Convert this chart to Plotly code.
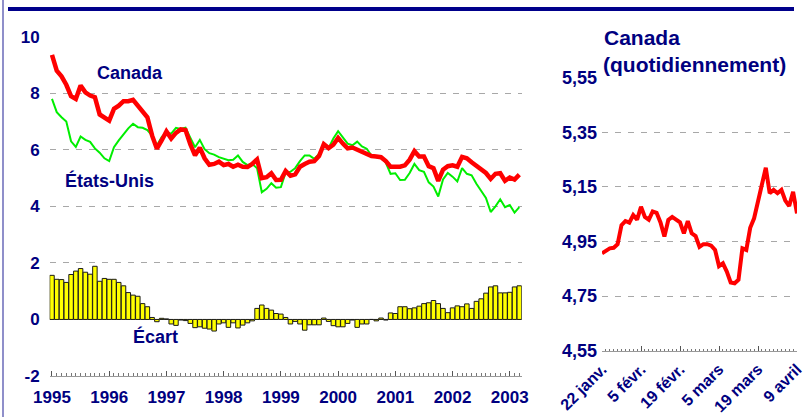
import plotly.graph_objects as go

# ---------------- data: monthly, Jan 1995 .. Mar 2003 (month index) ----------------
months = list(range(99))
canada = [9.36, 8.80, 8.60, 8.30, 7.90, 7.80, 8.27, 8.03, 7.92, 7.86,
          7.25, 7.13, 7.03, 7.45, 7.56, 7.72, 7.72, 7.77, 7.58, 7.35,
          7.15, 6.50, 6.04, 6.33, 6.65, 6.40, 6.60, 6.72, 6.70, 6.20,
          5.80, 6.08, 5.70, 5.47, 5.50, 5.58, 5.46, 5.50, 5.40, 5.47,
          5.40, 5.39, 5.50, 5.66, 5.00, 5.03, 5.17, 4.93, 4.94, 5.25,
          5.08, 5.13, 5.40, 5.50, 5.58, 5.60, 5.78, 6.20, 6.06, 6.18,
          6.42, 6.22, 6.05, 6.08, 6.00, 5.93, 5.87, 5.78, 5.76, 5.74,
          5.60, 5.40, 5.40, 5.40, 5.45, 5.65, 5.95, 5.76, 5.76, 5.42,
          5.35, 4.90, 5.30, 5.42, 5.45, 5.40, 5.75, 5.70, 5.56, 5.42,
          5.30, 5.18, 4.97, 5.15, 5.17, 4.90, 5.02, 4.95, 5.12]
etats_unis = [7.80, 7.33, 7.15, 7.00, 6.30, 6.10, 6.47, 6.35, 6.28, 6.05,
              5.90, 5.70, 5.60, 6.09, 6.33, 6.55, 6.76, 6.92, 6.80, 6.78,
              6.70, 6.50, 6.15, 6.45, 6.62, 6.57, 6.78, 6.74, 6.78, 6.43,
              6.09, 6.35, 6.02, 5.88, 5.83, 5.74, 5.68, 5.63, 5.65, 5.80,
              5.57, 5.46, 5.50, 5.35, 4.50, 4.62, 4.82, 4.66, 4.68, 5.20,
              5.22, 5.35, 5.60, 5.80, 5.80, 5.68, 5.85, 6.20, 6.06, 6.40,
              6.66, 6.46, 6.22, 6.16, 6.29, 6.12, 6.04, 5.80, 5.74, 5.72,
              5.55, 5.15, 5.17, 4.93, 4.94, 5.18, 5.50, 5.28, 5.22, 4.85,
              4.70, 4.35, 4.95, 5.18, 5.05, 4.88, 5.35, 5.15, 5.10, 4.80,
              4.55, 4.30, 3.80, 4.00, 4.25, 3.97, 4.05, 3.78, 3.97]
ecart = [1.56, 1.42, 1.41, 1.31, 1.59, 1.71, 1.80, 1.67, 1.60, 1.88,
         1.35, 1.45, 1.42, 1.42, 1.31, 1.19, 0.95, 0.86, 0.82, 0.56,
         0.45, 0.07, -0.08, 0.04, 0.02, -0.16, -0.21, -0.02, -0.04, -0.14,
         -0.29, -0.26, -0.31, -0.34, -0.41, -0.16, -0.12, -0.28, -0.12, -0.30,
         -0.20, -0.12, -0.05, 0.39, 0.51, 0.39, 0.33, 0.21, 0.19, 0.07,
         -0.16, -0.07, -0.16, -0.38, -0.19, -0.19, -0.19, 0.05, -0.07, -0.22,
         -0.26, -0.26, -0.14, -0.02, -0.28, -0.16, -0.16, 0.00, -0.05, 0.05,
         -0.02, 0.23, 0.21, 0.45, 0.45, 0.38, 0.41, 0.47, 0.56, 0.59,
         0.67, 0.56, 0.39, 0.24, 0.41, 0.48, 0.45, 0.55, 0.39, 0.64,
         0.73, 0.93, 1.15, 1.19, 0.94, 0.94, 0.96, 1.15, 1.19]
year_ticks = [0, 12, 24, 36, 48, 60, 72, 84, 96]
year_labels = ["1995", "1996", "1997", "1998", "1999", "2000", "2001", "2002", "2003"]
left_yvals = [10, 8, 6, 4, 2, 0, -2]
left_ylabels = ["10", "8", "6", "4", "2", "0", "-2"]

# ---------------- data: daily (business days), 22 Jan .. 9 Apr ----------------
days = list(range(51))
canada_daily = [4.907, 4.915, 4.925, 4.927, 4.940, 5.010, 5.025, 5.019, 5.047, 5.030,
                5.077, 5.040, 5.030, 5.060, 5.055, 5.020, 4.968, 5.029, 5.040, 5.030,
                5.020, 4.980, 5.025, 4.980, 4.970, 4.930, 4.940, 4.940, 4.935, 4.919,
                4.860, 4.870, 4.840, 4.800, 4.797, 4.810, 4.925, 4.919, 5.000, 5.035,
                5.100, 5.150, 5.220, 5.127, 5.139, 5.127, 5.139, 5.100, 5.080, 5.132,
                5.053]
date_ticks = [0, 10, 20, 30, 40, 50]
date_labels = ["22 janv.", "5 févr.", "19 févr.", "5 mars", "19 mars", "9 avril"]
right_yvals = [5.55, 5.35, 5.15, 4.95, 4.75, 4.55]
right_ylabels = ["5,55", "5,35", "5,15", "4,95", "4,75", "4,55"]

NAVY = "#000080"
FONT = "Liberation Sans, Arial, sans-serif"
W, H = 804, 417

def px_x(x):
    return x / W

def px_y(y):
    return (H - y) / H

fig = go.Figure()

fig.add_trace(go.Bar(x=months, y=ecart, name="Écart", xaxis="x", yaxis="y",
                     marker=dict(color="#ffff00", line=dict(color="#1a1a1a", width=1))))
fig.add_trace(go.Scatter(x=months, y=etats_unis, name="États-Unis", mode="lines",
                         xaxis="x", yaxis="y", line=dict(color="#00ee00", width=2)))
fig.add_trace(go.Scatter(x=months, y=canada, name="Canada", mode="lines",
                         xaxis="x", yaxis="y", line=dict(color="#ff0000", width=4.5)))
fig.add_trace(go.Scatter(x=days, y=canada_daily, name="Canada (quotidiennement)", mode="lines",
                         xaxis="x2", yaxis="y2", line=dict(color="#ff0000", width=4),
                         cliponaxis=False))

grid = dict(showgrid=True, gridcolor="#a8a8a8", gridwidth=1.3, griddash="6px,7px")
tfont = dict(family=FONT, size=17, color=NAVY, weight="bold")

fig.update_layout(
    width=W, height=H,
    margin=dict(l=0, r=0, t=0, b=0, pad=0, autoexpand=False),
    paper_bgcolor="white", plot_bgcolor="white",
    showlegend=False,
    bargap=0.06,
    font=dict(family=FONT, color=NAVY),
    xaxis=dict(domain=[px_x(49.6), px_x(521.7)], range=[-0.5, 98.5],
               tickmode="array", tickvals=year_ticks, ticktext=year_labels,
               tickfont=tfont, ticks="inside", ticklen=5, tickcolor="#555",
               tickwidth=1, ticklabelstandoff=6, automargin=False,
               minor=dict(tickmode="linear", tick0=0, dtick=1, ticks="inside",
                          ticklen=3, tickcolor="#777", tickwidth=1, showgrid=False),
               showline=True, linecolor="#999", linewidth=1,
               showgrid=False, zeroline=False, anchor="y"),
    yaxis=dict(domain=[px_y(376), px_y(36.7)], range=[-2, 10],
               tickmode="array", tickvals=left_yvals, ticktext=left_ylabels,
               tickfont=tfont, ticks="", ticklabelstandoff=9, automargin=False,
               zeroline=False, showline=False, anchor="x", **grid),
    xaxis2=dict(domain=[px_x(602), px_x(797)], range=[0, 50],
                tickmode="array", tickvals=date_ticks, ticktext=date_labels,
                tickangle=-45, automargin=False, ticklabeloverflow="allow",
                tickfont=dict(family=FONT, size=16, color=NAVY, weight="bold"),
                ticks="inside", ticklen=5, tickcolor="#555", tickwidth=1,
                ticklabelstandoff=2,
                minor=dict(tickmode="linear", tick0=0, dtick=1, ticks="inside",
                           ticklen=2, tickcolor="#777", tickwidth=1, showgrid=False),
                showline=True, linecolor="#999", linewidth=1,
                showgrid=False, zeroline=False, anchor="y2"),
    yaxis2=dict(domain=[px_y(350.7), px_y(77.7)], range=[4.55, 5.55],
                tickmode="array", tickvals=right_yvals, ticktext=right_ylabels,
                tickfont=dict(family=FONT, size=18, color=NAVY, weight="bold"),
                ticks="", ticklabelstandoff=4, automargin=False,
                zeroline=False, showline=False, anchor="x2", **grid),
)

afont = dict(family=FONT, size=18, color=NAVY, weight="bold")
fig.add_annotation(text="Canada", xref="paper", yref="paper", x=px_x(130), y=px_y(72.5),
                   xanchor="center", yanchor="middle", showarrow=False, font=afont)
fig.add_annotation(text="États-Unis", xref="paper", yref="paper", x=px_x(109.5), y=px_y(180),
                   xanchor="center", yanchor="middle", showarrow=False, font=afont)
fig.add_annotation(text="Écart", xref="paper", yref="paper", x=px_x(155.5), y=px_y(336),
                   xanchor="center", yanchor="middle", showarrow=False, font=afont)
tfont2 = dict(family=FONT, size=21, color=NAVY, weight="bold")
fig.add_annotation(text="Canada", xref="paper", yref="paper", x=px_x(602), y=px_y(38),
                   xanchor="left", yanchor="middle", showarrow=False, font=tfont2)
fig.add_annotation(text="(quotidiennement)", xref="paper", yref="paper", x=px_x(601), y=px_y(64),
                   xanchor="left", yanchor="middle", showarrow=False, font=tfont2)

# decorative frame lines
fig.add_shape(type="line", xref="paper", yref="paper",
              x0=px_x(8), x1=px_x(794), y0=px_y(9), y1=px_y(9),
              line=dict(color="#00008b", width=4))
fig.add_shape(type="line", xref="paper", yref="paper",
              x0=px_x(3), x1=px_x(3), y0=0, y1=1,
              line=dict(color="#6a6ab8", width=1.5))

fig.write_html("out.html",
               config={"displayModeBar": False},
               post_script="document.body.style.margin='0';document.body.style.overflow='hidden';")
